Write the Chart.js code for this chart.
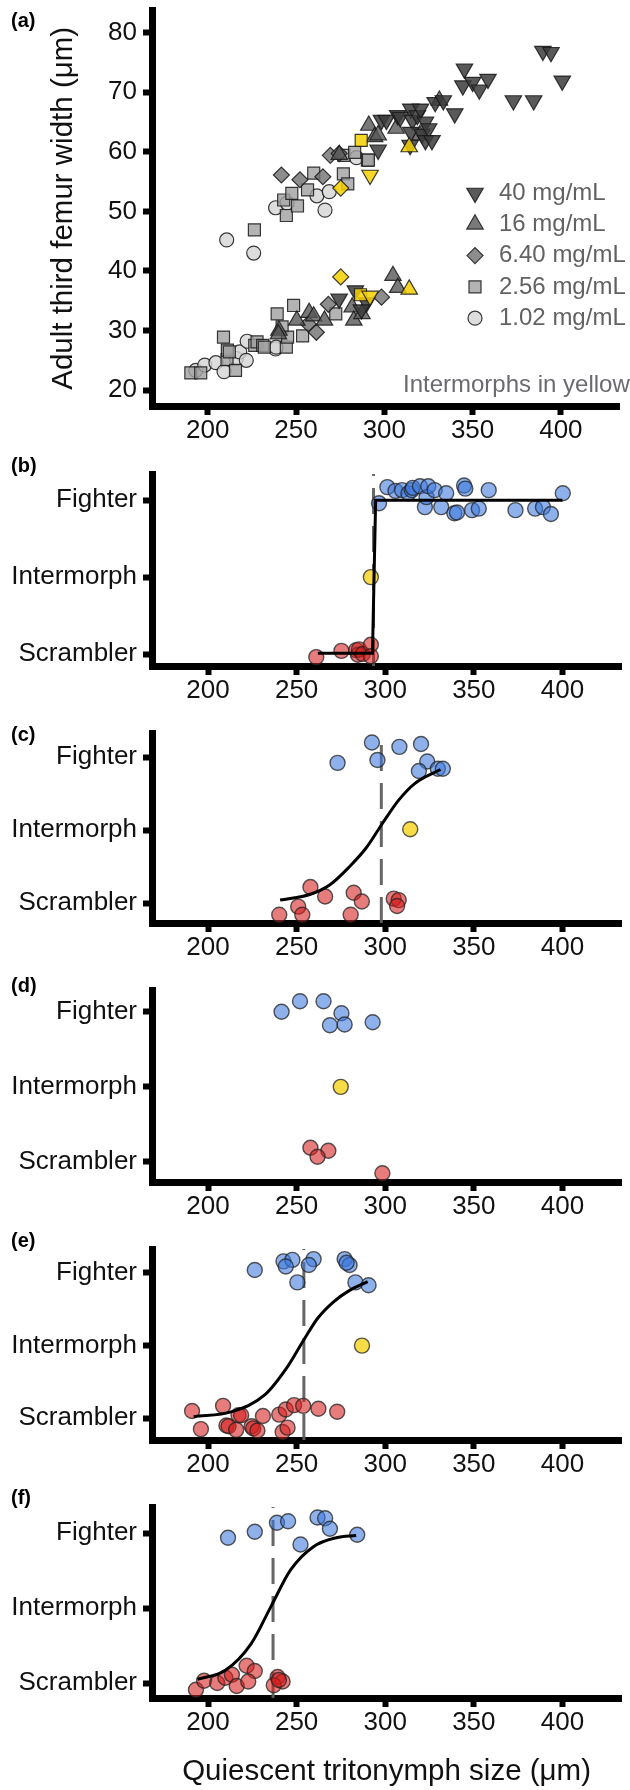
<!DOCTYPE html>
<html><head><meta charset="utf-8">
<script src="https://cdn.jsdelivr.net/npm/chart.js@4/dist/chart.umd.min.js"></script>
<style>
html,body{margin:0;padding:0;background:#fff;}
#wrap{position:relative;width:630px;height:1790px;overflow:hidden;}
canvas{position:absolute;left:0;}
.lab{position:absolute;left:11px;font:bold 20px "Liberation Sans",Arial,sans-serif;line-height:20px;z-index:2;color:#000;}
</style></head><body><div id="wrap">
<canvas id="ca" width="630" height="450" style="top:0px"></canvas>
<canvas id="cb" width="630" height="270" style="top:440px"></canvas>
<canvas id="cc" width="630" height="260" style="top:710px"></canvas>
<canvas id="cd" width="630" height="260" style="top:970px"></canvas>
<canvas id="ce" width="630" height="260" style="top:1230px"></canvas>
<canvas id="cf" width="630" height="300" style="top:1490px"></canvas>
<div class="lab" style="top:10px">(a)</div>
<div class="lab" style="top:455px">(b)</div>
<div class="lab" style="top:724px">(c)</div>
<div class="lab" style="top:975px">(d)</div>
<div class="lab" style="top:1230px">(e)</div>
<div class="lab" style="top:1487px">(f)</div>
</div>
<script>
// ---------- tick labels / categories ----------
const xTicks = [200, 250, 300, 350, 400];
const femurTicks = [20, 30, 40, 50, 60, 70, 80];
const morphLabels = ['Scrambler', 'Intermorph', 'Fighter'];
const legendLabels = ['40 mg/mL', '16 mg/mL', '6.40 mg/mL', '2.56 mg/mL', '1.02 mg/mL'];
const xTitle = 'Quiescent tritonymph size (μm)';
const yTitleA = 'Adult third femur width (μm)';
const noteA = 'Intermorphs in yellow';

// ---------- panel (a): [tritonymph size, femur width] ----------
const a40 = [[298.4,65.3],[296.5,60.3],[301.2,65.3],[307.6,66.1],[309,65.8],[314.6,61.1],[315,67.2],[315.9,65.3],[315,63.3],[318.7,66.1],[320.5,67.2],[321.4,63],[323.3,65],[323.3,61.9],[325.1,63.9],[327,61.9],[328.8,68.3],[333.4,68.6],[339.9,66.4],[344.5,71.1],[345.4,73.9],[350,71.7],[353.8,70.4],[358.7,72.2],[373.1,68.6],[384.6,68.6],[389.8,76.9],[394.4,76.7],[400.8,71.9],
  [274.4,35.3],[283.6,36.7],[290,34.7],[287,33.5]];
const a16 = [[274.5,59.5],[291.2,64.4],[294.5,62.5],[296.5,62.8],[306.7,63.9],[320.1,62.8],[331.2,68.6],
  [240.3,30],[240,29.4],[250.4,31.7],[257.4,33],[260,32.4],[266.1,31.7],[281.8,33.9],[282.7,31.7],[287.3,32.8],[304.9,39.2],[307.6,37.2]];
const a640 = [[241.7,56.1],[252.2,55.3],[265.2,55.8],[269.4,59.4],[274.4,59.7],
  [256.9,31.1],[261.5,29.7],[268.3,34.4],[298.4,35.6]];
const a256 = [[226.4,46.9],[243,51.9],[244.5,49.3],[247.6,53],[250.8,50.9],[256.5,53.6],[260,56.4],[276.8,56.3],[277.1,59.4],[279.3,54.6],[283.2,59.9],[290.4,58.6],[291,58.6],
  [190.4,22.9],[196,22.9],[208.9,28.9],[210.9,25.1],[211.1,26.7],[212.2,26.4],[215.7,23.3],[226.6,27.5],[227.9,28.1],[231.1,27.5],[232,27.2],[239.3,32.8],[242.1,30.6],[244.5,27.2],[245.2,28.9],[248.6,34.2],[253.7,29.1],[272.5,32.8]];
const a102 = [[210.7,45.2],[226,43],[238.4,50.6],[244.9,51.4],[261.8,52.6],[266.4,50.2],[268.8,53.3],[284.2,59],
  [193.2,23.3],[198.3,24.2],[204.6,24.6],[209.2,23.1],[216.2,25.3],[218.1,26.4],[221.8,25],[222.3,28.2],[238.4,26.9],[238.7,27.2]];
const aYellowSquare = [[286.9,61.9],[286.5,36]];
const aYellowDown = [[291.9,56.1],[291.9,35.8]];
const aYellowDiamond = [[275.3,53.9],[275.3,39]];
const aYellowUp = [[314.1,60.8],[314.1,36.9]];

// ---------- panels (b)-(f): [size, morph index 1..3 with jitter] ----------
const bFighter = [[296.5,2.96],[301.2,3.17],[305.8,3.12],[309.5,3.13],[313.1,3.09],[315,3.13],[315.6,3.16],[319.6,3.18],[322.4,2.91],[323.3,3.04],[324.3,3.18],[327.9,3.13],[331.6,2.91],[334.4,3.09],[339,2.83],[340.5,2.84],[344.5,3.19],[345.2,3.15],[349,2.87],[352.8,2.89],[358.4,3.13],[373.5,2.87],[384.6,2.89],[389,2.91],[393.5,2.82],[400.2,3.09]];
const bInter = [[291.9,2.0]];
const bScrambler = [[261.1,0.96],[275.3,1.04],[283.6,1.05],[284.6,0.99],[285.2,1.06],[287.3,1.0],[291.9,1.12],[291.9,0.97]];
const bFit = [[262,1.01],[292.8,1.01],[294.6,3.0],[400,3.0]];
const bThreshold = 293.4;

const cFighter = [[273.1,2.92],[292.5,3.2],[295.6,2.96],[308,3.14],[320.2,3.18],[323.7,2.94],[319,2.81],[329.7,2.84],[332.5,2.84]];
const cInter = [[314.1,2.01]];
const cScrambler = [[240.2,0.84],[250.9,0.95],[253.2,0.84],[257.8,1.22],[266.1,1.09],[282.2,1.14],[286.8,1.02],[280.5,0.84],[304.8,1.06],[307.6,1.04],[306.7,0.96]];
const cFit = [[240.7,1.04],[257.8,1.12],[268.8,1.25],[279.9,1.5],[289.1,1.75],[298.4,2.09],[307.6,2.41],[316.8,2.64],[331.2,2.83]];
const cThreshold = 297.8;

const dFighter = [[241.5,3.0],[251.9,3.14],[265.2,3.14],[275.3,2.98],[268.8,2.82],[277.1,2.83],[292.9,2.86]];
const dInter = [[274.9,2.0]];
const dScrambler = [[257.8,1.19],[267.9,1.15],[261.8,1.07],[298.4,0.85]];

const eFighter = [[226.4,3.04],[242.6,3.16],[247.6,3.18],[243.9,3.09],[259.6,3.19],[256.9,3.11],[250.4,2.87],[277.1,3.19],[279.9,3.11],[278.2,3.14],[283.2,2.87],[290.6,2.83]];
const eInter = [[286.9,2.0]];
const eScrambler = [[191,1.10],[196,0.85],[208.5,1.17],[210.4,0.90],[211.6,0.89],[215.9,0.84],[217.2,1.04],[218.7,1.04],[224.6,0.89],[225.5,0.86],[227.9,0.83],[231,1.03],[240.2,1.05],[242.1,0.81],[244.9,0.87],[243.9,1.12],[248.6,1.18],[253.7,1.17],[262.3,1.13],[272.9,1.09]];
const eFit = [[191.9,1.02],[213.5,1.09],[232,1.32],[244.9,1.71],[254.1,2.08],[262,2.38],[270.7,2.6],[279.9,2.76],[290.1,2.88]];
const eThreshold = 254.1;

const fFighter = [[211.3,2.94],[226.4,3.02],[238.9,3.14],[245.2,3.16],[252.2,2.85],[261.8,3.21],[266.1,3.2],[268.8,3.06],[284.2,2.98]];
const fInter = [];
const fScrambler = [[193.2,0.91],[197.8,1.03],[205.2,1.0],[209.8,1.07],[213.5,1.11],[216.2,0.96],[221.8,1.23],[226.4,1.16],[222.7,1.02],[239.3,1.08],[242.1,1.02],[237.1,0.97],[240,1.04]];
const fFit = [[194.1,1.05],[209.8,1.17],[224.5,1.53],[235.5,2.02],[246.6,2.51],[259.5,2.82],[272.4,2.94],[283.6,2.97]];
const fThreshold = 236.7;

// ---------- helpers ----------
const FONT = '"Liberation Sans", Arial, sans-serif';
Chart.defaults.font.family = FONT;
Chart.defaults.color = '#111';
const pts = arr => arr.map(([x, y]) => ({x, y}));
const X_MIN = 168.4, X_MAX = 433.1;

function axisBase() {
  return {
    border: {display: true, color: '#000', width: 7},
    grid: {drawOnChartArea: false, drawTicks: true, tickLength: 9, tickWidth: 6, tickColor: '#000'},
  };
}
function xScale(h, title) {
  return Object.assign(axisBase(), {
    type: 'linear', min: X_MIN, max: X_MAX,
    afterBuildTicks: s => { s.ticks = xTicks.map(v => ({value: v})); },
    afterFit: s => { s.height = h; s.paddingLeft = 0; s.paddingRight = 0; },
    ticks: {padding: 0, font: {size: 26}, color: '#111', maxRotation: 0, autoSkip: false},
    title: title ? {display: true, text: title, font: {size: 29.5}, color: '#111', padding: {top: 0, bottom: 0}} : {display: false}
  });
}
function yScale(min, max, tickVals, labelFn, title) {
  return Object.assign(axisBase(), {
    type: 'linear', min, max,
    afterBuildTicks: s => { s.ticks = tickVals.map(v => ({value: v})); },
    afterFit: s => { s.width = 152; s.paddingTop = 0; s.paddingBottom = 0; },
    ticks: {padding: 6, font: {size: 26}, color: '#111', autoSkip: false, callback: labelFn},
    title: title ? {display: true, text: title, font: {size: 29.5}, color: '#111', padding: {top: 46, bottom: 0}} : {display: false}
  });
}
function baseOptions(padTop, xs, ys) {
  return {
    responsive: false, animation: false, devicePixelRatio: 1,
    layout: {padding: {top: padTop, left: 0, right: 0, bottom: 0}},
    plugins: {legend: {display: false}, tooltip: {enabled: false}},
    scales: {x: xs, y: ys}
  };
}
function pointDs(arr, style) {
  return {
    data: pts(arr), order: 1, clip: false,
    pointStyle: style.shape, pointRotation: style.rot || 0, pointRadius: style.r,
    pointBackgroundColor: style.fill, pointBorderColor: style.stroke, pointBorderWidth: style.bw,
    backgroundColor: style.fill, borderColor: style.stroke, borderWidth: style.bw
  };
}

// ---------- panel (a) ----------
const grayStroke = 'rgba(25,25,25,0.85)';
const sDown = {shape: 'triangle', rot: 180, r: 9.5, fill: 'rgba(60,60,60,0.85)', stroke: grayStroke, bw: 1.2};
const sUp = {shape: 'triangle', rot: 0, r: 9.5, fill: 'rgba(88,88,88,0.8)', stroke: grayStroke, bw: 1.2};
const sDia = {shape: 'rectRot', r: 8, fill: 'rgba(112,112,112,0.8)', stroke: grayStroke, bw: 1.2};
const sSq = {shape: 'rect', r: 8.5, fill: 'rgba(160,160,160,0.8)', stroke: grayStroke, bw: 1.2};
const sCir = {shape: 'circle', r: 7, fill: 'rgba(212,212,212,0.8)', stroke: grayStroke, bw: 1.2};
const yellowFill = 'rgba(246,208,0,0.85)';
const withFill = (s, f) => Object.assign({}, s, {fill: f});

const legendPlugin = {
  id: 'femurLegend',
  afterDatasetsDraw(chart) {
    const ctx = chart.ctx;
    ctx.save();
    const styles = [sDown, sUp, sDia, sSq, sCir];
    legendLabels.forEach((lab, i) => {
      const s = styles[i];
      const y = 193 + i * 31.3;
      ctx.fillStyle = s.fill; ctx.strokeStyle = s.stroke; ctx.lineWidth = s.bw;
      Chart.helpers.drawPoint(ctx, {pointStyle: s.shape, rotation: s.rot || 0, radius: s.r, borderWidth: s.bw}, 475, y);
      ctx.fillStyle = '#626262';
      ctx.font = '24px ' + FONT;
      ctx.textBaseline = 'middle'; ctx.textAlign = 'left';
      ctx.fillText(lab, 499, y);
    });
    ctx.fillStyle = '#6a6a70';
    ctx.font = '24px ' + FONT;
    ctx.textBaseline = 'middle';
    ctx.fillText(noteA, 403, 385);
    ctx.restore();
  }
};

new Chart(document.getElementById('ca'), {
  type: 'scatter',
  data: {datasets: [
    pointDs(aYellowUp, withFill(sUp, yellowFill)),
    pointDs(aYellowDiamond, withFill(sDia, yellowFill)),
    pointDs(aYellowDown, withFill(sDown, yellowFill)),
    pointDs(aYellowSquare, withFill(sSq, yellowFill)),
    pointDs(a40, sDown),
    pointDs(a16, sUp),
    pointDs(a640, sDia),
    pointDs(a256, sSq),
    pointDs(a102, sCir)
  ]},
  options: baseOptions(8, xScale(44), yScale(17.33, 83.67, femurTicks, v => String(v), yTitleA)),
  plugins: [legendPlugin]
});

// ---------- panels (b)-(f) ----------
const sFighter = {shape: 'circle', r: 7.5, fill: 'rgba(60,120,222,0.58)', stroke: 'rgba(35,35,35,0.75)', bw: 1.4};
const sInter = {shape: 'circle', r: 7.5, fill: 'rgba(246,212,30,0.82)', stroke: 'rgba(35,35,35,0.75)', bw: 1.4};
const sScr = {shape: 'circle', r: 7.5, fill: 'rgba(214,30,30,0.58)', stroke: 'rgba(35,35,35,0.75)', bw: 1.4};

function morphPanel(id, padTop, xh, yMin, yMax, fighter, inter, scr, fit, threshold, step, title) {
  const datasets = [];
  if (fit) datasets.push({data: pts(fit), showLine: true, pointRadius: 0, borderColor: '#000', borderWidth: 3,
    cubicInterpolationMode: step ? 'default' : 'monotone', tension: 0, order: 0});
  datasets.push(pointDs(fighter, sFighter), pointDs(inter, sInter), pointDs(scr, sScr));
  if (threshold != null) datasets.push({data: [{x: threshold, y: yMin}, {x: threshold, y: yMax}], showLine: true,
    pointRadius: 0, borderColor: 'rgba(95,95,95,0.95)', borderWidth: 3, borderDash: [26, 12], order: 2});
  new Chart(document.getElementById(id), {
    type: 'scatter', data: {datasets},
    options: baseOptions(padTop, xScale(xh, title), yScale(yMin, yMax, [1, 2, 3], v => morphLabels[v - 1]))
  });
}
morphPanel('cb', 34, 44, 0.844, 3.34, bFighter, bInter, bScrambler, bFit, bThreshold, true);
morphPanel('cc', 23, 47, 0.726, 3.33, cFighter, cInter, cScrambler, cFit, cThreshold, false);
morphPanel('cd', 20, 48, 0.733, 3.29, dFighter, dInter, dScrambler, null, null, false);
morphPanel('ce', 19, 50, 0.70, 3.33, eFighter, eInter, eScrambler, eFit, eThreshold, false);
morphPanel('cf', 17, 92, 0.80, 3.35, fFighter, fInter, fScrambler, fFit, fThreshold, false, xTitle);
</script>
</body></html>
